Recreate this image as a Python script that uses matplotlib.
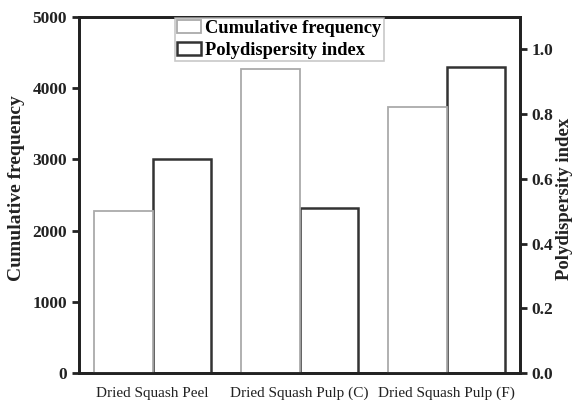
import matplotlib
matplotlib.use("Agg")
import matplotlib.pyplot as plt
import numpy as np

categories = ["Dried Squash Peel", "Dried Squash Pulp (C)", "Dried Squash Pulp (F)"]
cumulative_frequency = [2280, 4270, 3740]
polydispersity_index = [0.66, 0.51, 0.945]

plt.rcParams['font.family'] = ['Liberation Serif', 'DejaVu Serif']

fig = plt.figure(figsize=(5.74, 4.0), dpi=100)
ax = fig.add_axes([79/574, 1-373/400, (520-79)/574, (373-17)/400])
ax2 = ax.twinx()

x = np.arange(len(categories))
w = 0.4
b1 = ax.bar(x - w/2, cumulative_frequency, width=w, facecolor='white',
            edgecolor='#aaaaaa', linewidth=1.3, label='Cumulative frequency', zorder=2)
b2 = ax2.bar(x + w/2, polydispersity_index, width=w, facecolor='none',
             edgecolor='#333333', linewidth=1.8, label='Polydispersity index', zorder=3)

ax.set_xlim(-0.5, 2.5)
ax.set_ylim(0, 5000)
ax2.set_ylim(0, 1.1)
ax.set_yticks([0, 1000, 2000, 3000, 4000, 5000])
ax2.set_yticks([0.0, 0.2, 0.4, 0.6, 0.8, 1.0])
ax2.set_yticklabels(["0.0", "0.2", "0.4", "0.6", "0.8", "1.0"])
ax.set_xticks(x)
ax.set_xticklabels(categories, fontsize=11)
ax.tick_params(axis='x', length=0, pad=10, colors='#222222')

for a in (ax, ax2):
    for s in a.spines.values():
        s.set_linewidth(2)
        s.set_color('#222222')
ax.tick_params(axis='y', direction='out', length=5, width=2, labelsize=12.5, colors='#222222')
ax2.tick_params(axis='y', direction='out', length=5, width=2, labelsize=12.5, colors='#222222')
for lbl in ax.get_yticklabels() + ax2.get_yticklabels():
    lbl.set_fontweight('bold')

ax.set_ylabel('Cumulative frequency', fontsize=14, fontweight='bold', color='#222222')
ax2.set_ylabel('Polydispersity index', fontsize=13.5, fontweight='bold', color='#222222')
ax.yaxis.set_label_coords((25 - 79) / 441, 0.52)
ax2.yaxis.set_label_coords((556 - 79) / 441, 0.49)

leg = ax.legend([b1, b2], ['Cumulative frequency', 'Polydispersity index'],
                loc='upper left', bbox_to_anchor=(0.218, 0.997), borderaxespad=0,
                frameon=True, fancybox=False, handlelength=1.3, handleheight=0.7,
                handletextpad=0.2, borderpad=0.12, labelspacing=0.25,
                prop={'family': 'Liberation Serif', 'weight': 'bold', 'size': 13.3})
leg.get_frame().set_edgecolor('#bbbbbb')
leg.get_frame().set_linewidth(1.2)
leg.set_zorder(10)
ax.set_zorder(ax2.get_zorder() + 1)
ax.patch.set_visible(False)

fig.savefig('out.png', dpi=100)
